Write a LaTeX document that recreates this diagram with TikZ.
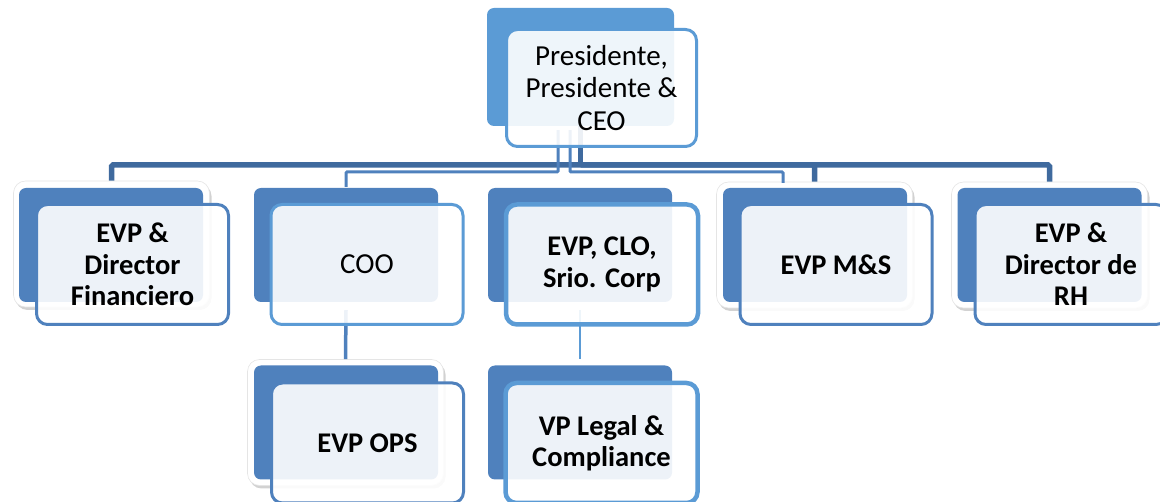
\documentclass[tikz,border=0pt]{standalone}
\usepackage{fontspec}
\setmainfont{Carlito}
\usetikzlibrary{calc,shadows}
\definecolor{backblue}{RGB}{79,129,189}
\definecolor{ceoblue}{RGB}{91,155,213}
\definecolor{busblue}{RGB}{63,106,158}
\definecolor{thinblue}{RGB}{79,129,189}
\tikzset{
  framebox/.style={rectangle, rounded corners=12pt, fill=white, draw=black!10, line width=0.6pt,
    minimum width=196pt, minimum height=126pt, inner sep=0pt,
    drop shadow={shadow xshift=2pt, shadow yshift=-3pt, opacity=0.25, fill=black!70}},
  backbox/.style={rectangle, rounded corners=7pt, fill=#1, draw=none,
    minimum width=184pt, minimum height=114pt, inner sep=0pt},
  backbox/.default=backblue,
  frontbox/.style={rectangle, rounded corners=11pt, draw=#1, line width=3pt,
    fill=white, fill opacity=0.9, text opacity=1, text=black,
    minimum width=192pt, minimum height=120pt, inner sep=0pt, align=center,
    font=\bfseries\fontsize{28.5}{31.5}\selectfont},
  frontbox/.default=backblue,
  thickfront/.style={frontbox=ceoblue, line width=4.5pt},
  plaintext/.style={font=\mdseries\fontsize{29}{32.5}\selectfont},
  busline/.style={draw=busblue, line width=5.5pt, rounded corners=1.5pt},
  thinline/.style={draw=thinblue, line width=3pt, rounded corners=1pt},
}
\begin{document}
\begin{tikzpicture}[x=1pt,y=-1pt]
\useasboundingbox (0,0) rectangle (1160,502);
\clip (0,0) rectangle (1160,502);

% white shadowed frames
\node[framebox] (dfFr) at (111.5,244) {};
\node[framebox] (msFr) at (814.5,245) {};
\node[framebox] (rhFr) at (1049.5,245) {};
\node[framebox] (opsFr) at (345.5,422.5) {};

% back boxes
\node[backbox=ceoblue, minimum width=187pt, minimum height=118pt] (ceoB) at (580.5,67) {};
\node[backbox] (dfB) at (111,245) {};
\node[backbox] (cooB) at (346,245) {};
\node[backbox] (cloB) at (580,245) {};
\node[backbox] (msB) at (815,245) {};
\node[backbox] (rhB) at (1049.5,245) {};
\node[backbox] (opsB) at (346,422.5) {};
\node[backbox] (vpB) at (580,422.5) {};

% connectors
\coordinate (busY) at (0,165);
\coordinate (subY) at (0,172);
\coordinate (msStub) at (783,183);
\draw[busline] (ceoB.south) -- (ceoB.south |- busY);
\draw[busline] (dfFr.north) |- (ceoB.south |- busY) -| (msFr.north);
\draw[busline] (ceoB.south |- busY) -| (rhFr.north);
\coordinate (ceoL) at ($(ceoB.south)+(-22.5,4)$);
\coordinate (ceoR) at ($(ceoB.south)+(-10.5,4)$);
\draw[thinline] (ceoL) -- (ceoL |- subY) -| ($(cooB.north)+(0,-1)$);
\draw[thinline] (ceoR) -- (ceoR |- subY) -| (msStub);
\draw[draw=thinblue, line width=3.5pt] ($(cooB.south)+(0,8)$) -- (opsFr.north);
\draw[draw=ceoblue, line width=2pt] ($(cloB.south)+(0,8)$) -- (cloB.south |- opsFr.north);

% front boxes
\node[frontbox=ceoblue, plaintext, minimum width=190pt, minimum height=117pt] (ceo) at (601.5,88)
  {Presidente,\\Presidente \&\\CEO};
\node[frontbox] (df) at (132.5,264.5) {EVP \&\\Director\\Financiero};
\node[frontbox=ceoblue, plaintext] (coo) at (367,264.5) {COO};
\node[thickfront] (clo) at (602,264.5) {EVP, CLO,\\Srio. Corp};
\node[frontbox] (ms) at (836,264.5) {EVP M\&S};
\node[frontbox] (rh) at (1071,264.5) {EVP \&\\Director de\\RH};
\node[frontbox] (ops) at (367.5,443) {EVP OPS};
\node[thickfront] (vp) at (601.5,443) {VP Legal \&\\Compliance};
\end{tikzpicture}
\end{document}
